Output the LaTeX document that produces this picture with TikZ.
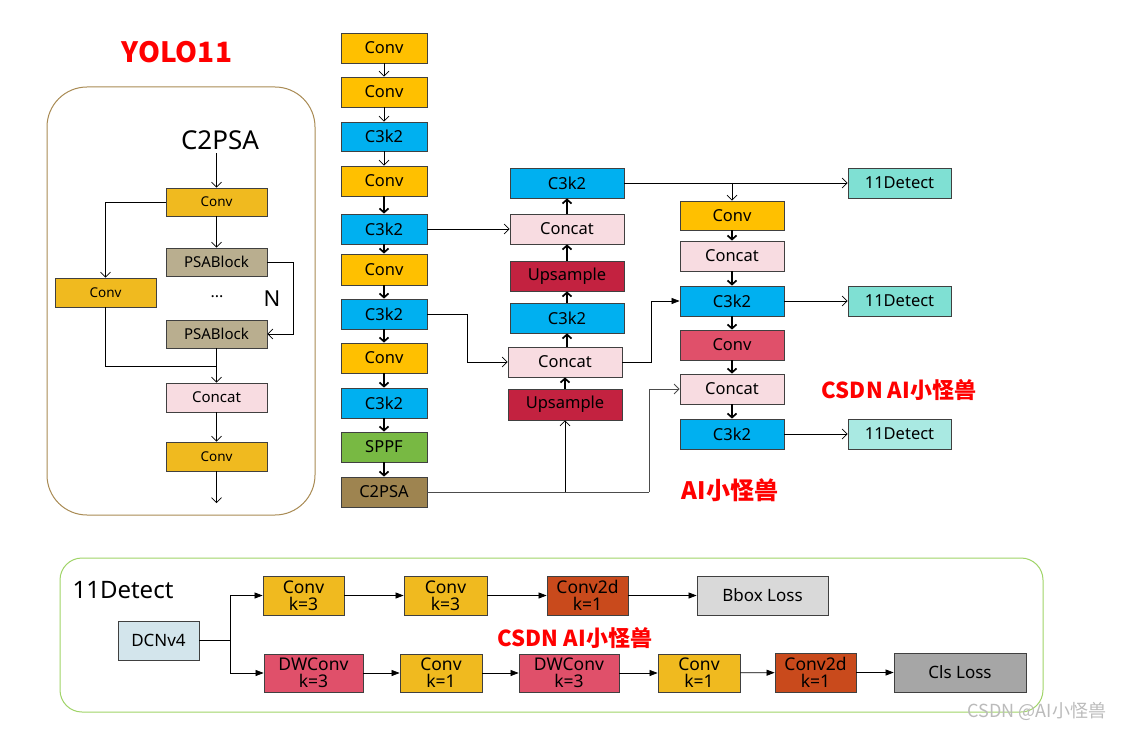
\documentclass[tikz,border=0pt]{standalone}
\usepackage{fontspec}
\setmainfont{Noto Sans}
\newfontfamily\cjk{Noto Sans CJK SC}
\usetikzlibrary{arrows.meta}
\definecolor{cconv}{HTML}{FFC000}
\definecolor{cc3}{HTML}{00B0F0}
\definecolor{ccat}{HTML}{F8DCE1}
\definecolor{cups}{HTML}{C32240}
\definecolor{csppf}{HTML}{78B943}
\definecolor{cpsa}{HTML}{9E8450}
\definecolor{cdet}{HTML}{7FE0D3}
\definecolor{cdetl}{HTML}{A9E9E2}
\definecolor{crconv}{HTML}{E0506A}
\definecolor{cgold}{HTML}{F0BA1F}
\definecolor{cpsab}{HTML}{B9AE8F}
\definecolor{cdcn}{HTML}{D3E5EC}
\definecolor{cc2d}{HTML}{C94A1C}
\definecolor{cbbox}{HTML}{D9D9D9}
\definecolor{ccls}{HTML}{A6A6A6}
\definecolor{cline}{HTML}{404040}
\definecolor{cframeA}{HTML}{A98B54}
\definecolor{cframeB}{HTML}{A0D468}
\definecolor{cred}{HTML}{FF0000}
\definecolor{cwm}{HTML}{BBBBBB}
\tikzset{
  bx/.style={draw=cline, line width=0.8pt, inner sep=0pt, align=center, font=\fontsize{16.5}{18}\selectfont},
  bw/.style 2 args={minimum width=#1, minimum height=#2},
  sm/.style={font=\fontsize{13.5}{15}\selectfont},
  md/.style={font=\fontsize{15}{17}\selectfont},
  two/.style={font=\fontsize{17.5}{17}\selectfont},
  openarr/.style={-{Straight Barb[length=5pt,width=10pt]}, line width=0.7pt},
  thickarr/.style={-{Straight Barb[length=4pt,width=9pt]}, line width=1.7pt},
  farr/.style={-{Triangle[length=8pt,width=6pt]}, line width=0.7pt},
  redlbl/.style={text=cred, font=\cjk\bfseries\fontsize{22}{24}\selectfont},
}
\begin{document}
\begin{tikzpicture}[x=1pt,y=-1pt]
\useasboundingbox[fill=white] (0,0) rectangle (1124,730);

% ---------- left panel ----------
\node[text=cred, font=\cjk\bfseries\fontsize{28}{30}\selectfont] (title) at (177,52) {YOLO11};
\draw[cframeA, line width=1pt, rounded corners=40pt] (47,87) rectangle (315,515);
\node[font=\fontsize{26}{28}\selectfont] (lc) at (220,140) {C2PSA};
\node[bx, bw={101}{28}, fill=cgold, sm] (l1) at (216.5,202) {Conv};
\node[bx, bw={101}{28}, fill=cpsab, md] (l2) at (216.5,262) {PSABlock};
\node[bx, bw={101}{29}, fill=cgold, sm] (l3) at (105.5,292.5) {Conv};
\node[bx, bw={101}{28}, fill=cpsab, md] (l4) at (216.5,334) {PSABlock};
\node[bx, bw={101}{29}, fill=ccat, md] (l5) at (216.5,397.5) {Concat};
\node[bx, bw={101}{29}, fill=cgold, sm] (l6) at (216.5,456.5) {Conv};
\node[font=\fontsize{16}{16}\selectfont] (dots) at (217,297) {...};
\node[font=\fontsize{22}{24}\selectfont] (nn) at (272,299) {N};
\coordinate (lo) at (216.5,503);
\coordinate (lj) at (216.5,366);
\draw[openarr] (l1.north |- lc.south) -- (l1.north);
\draw[openarr] (l1.west) -| (l3.north);
\draw[openarr] (l1) -- (l2);
\draw[openarr] (l2.east) -- ++(26,0) |- (l4.east);
\draw[line width=0.7pt] (l3.south) |- (lj);
\draw[openarr] (l4.south) -- (l5.north);
\draw[openarr] (l5) -- (l6);
\draw[openarr] (l6.south) -- (lo);

% ---------- backbone ----------
\node[bx, bw={86}{30}, fill=cconv] (m1) at (384,48) {Conv};
\node[bx, bw={86}{30}, fill=cconv] (m2) at (384,92) {Conv};
\node[bx, bw={86}{29}, fill=cc3] (m3) at (384,136.5) {C3k2};
\node[bx, bw={86}{30}, fill=cconv] (m4) at (384,181) {Conv};
\node[bx, bw={86}{30}, fill=cc3] (m5) at (384,229) {C3k2};
\node[bx, bw={86}{31}, fill=cconv] (m6) at (384,269.5) {Conv};
\node[bx, bw={86}{30}, fill=cc3] (m7) at (384,314) {C3k2};
\node[bx, bw={86}{30}, fill=cconv] (m8) at (384,358) {Conv};
\node[bx, bw={86}{30}, fill=cc3] (m9) at (384,403) {C3k2};
\node[bx, bw={86}{30}, fill=csppf] (m10) at (384,447) {SPPF};
\node[bx, bw={86}{30}, fill=cpsa] (m11) at (384,492) {C2PSA};
\draw[openarr] (m1) -- (m2);
\draw[openarr] (m2) -- (m3);
\draw[openarr] (m3) -- (m4);
\foreach \a/\b in {m4/m5,m5/m6,m6/m7,m7/m8,m8/m9,m9/m10,m10/m11}
  \draw[thickarr] (\a) -- (\b);

% ---------- neck column 2 ----------
\node[bx, bw={114}{30}, fill=cc3] (n1) at (567,183) {C3k2};
\node[bx, bw={114}{30}, fill=ccat] (n2) at (567,229) {Concat};
\node[bx, bw={114}{30}, fill=cups] (n3) at (567,276) {Upsample};
\node[bx, bw={114}{30}, fill=cc3] (n4) at (567,318) {C3k2};
\node[bx, bw={114}{30}, fill=ccat] (n5) at (565,362) {Concat};
\node[bx, bw={114}{31}, fill=cups] (n6) at (565,404.5) {Upsample};
\draw[thickarr] (n6) -- (n5);
\draw[thickarr] (n5.north -| n4) -- (n4);
\draw[thickarr] (n4) -- (n3);
\draw[thickarr] (n3) -- (n2);
\draw[thickarr] (n2) -- (n1);

% ---------- neck column 3 ----------
\node[bx, bw={104}{29}, fill=cconv] (r1) at (732,215.5) {Conv};
\node[bx, bw={104}{30}, fill=ccat] (r2) at (732,256) {Concat};
\node[bx, bw={104}{30}, fill=cc3] (r3) at (732,301) {C3k2};
\node[bx, bw={104}{30}, fill=crconv] (r4) at (732,345) {Conv};
\node[bx, bw={104}{30}, fill=ccat] (r5) at (732,389) {Concat};
\node[bx, bw={104}{30}, fill=cc3] (r6) at (732,434) {C3k2};
\foreach \a/\b in {r1/r2,r2/r3,r3/r4,r4/r5,r5/r6}
  \draw[thickarr] (\a) -- (\b);

% ---------- detect heads ----------
\node[bx, bw={103}{30}, fill=cdet] (d1) at (899.5,183) {11Detect};
\node[bx, bw={103}{30}, fill=cdet] (d2) at (899.5,301) {11Detect};
\node[bx, bw={103}{30}, fill=cdetl] (d3) at (899.5,434) {11Detect};

% ---------- connectors ----------
\coordinate (j1) at (467,314);
\coordinate (j2) at (649,492);
\coordinate (j4) at (651,362);
\draw[openarr] (m5.east) -- (n2.west);
\draw[openarr] (m7.east) -- (j1) |- (n5.west);
\draw[line width=0.8pt, black!70] (m11.east) -- (j2);
\draw[openarr, black!70, line width=0.8pt] (j2) |- (r5.west);
\draw[openarr] (n6.south |- m11.east) -- (n6.south);
\draw[farr] (n5.east) -- (j4) |- (r3.west);
\draw[openarr] (n1.east) -- (d1.west);
\draw[openarr] (n1.east -| r1.north) -- (r1.north);
\draw[openarr] (r3.east) -- (d2.west);
\draw[openarr] (r6.east) -- (d3.west);

\node[redlbl] (wm1) at (899,390) {CSDN AI小怪兽};
\node[redlbl, font=\cjk\bfseries\fontsize{24}{26}\selectfont] (wm2) at (730,490) {AI小怪兽};

% ---------- bottom panel ----------
\draw[cframeB, line width=1pt, rounded corners=22pt] (60,558) rectangle (1043,712);
\node[font=\fontsize{24}{26}\selectfont] (bt) at (123,590) {11Detect};
\node[bx, bw={81}{39}, fill=cdcn, font=\fontsize{17}{18}\selectfont] (b0) at (158.5,640.5) {DCNv4};
\node[bx, bw={81}{39}, fill=cgold, two] (b1) at (303.5,595.5) {Conv\\k=3};
\node[bx, bw={83}{39}, fill=cgold, two] (b2) at (445.5,595.5) {Conv\\k=3};
\node[bx, bw={81}{39}, fill=cc2d, two] (b3) at (587.5,595.5) {Conv2d\\k=1};
\node[bx, bw={131}{39}, fill=cbbox, font=\fontsize{17}{18}\selectfont] (b4) at (762.5,595.5) {Bbox Loss};
\node[bx, bw={99}{38}, fill=crconv, two] (c1) at (313.5,673) {DWConv\\k=3};
\node[bx, bw={82}{38}, fill=cgold, two] (c2) at (441,673) {Conv\\k=1};
\node[bx, bw={100}{38}, fill=crconv, two] (c3) at (569,673) {DWConv\\k=3};
\node[bx, bw={82}{38}, fill=cgold, two] (c4) at (699,673) {Conv\\k=1};
\node[bx, bw={81}{39}, fill=cc2d, two] (c5) at (815.5,672.5) {Conv2d\\k=1};
\node[bx, bw={132}{39}, fill=ccls, font=\fontsize{17}{18}\selectfont] (c6) at (960,672.5) {Cls Loss};
\coordinate (bj) at (230,640.5);
\draw[line width=0.7pt] (b0.east) -- (bj);
\draw[farr] (bj) |- (b1.west);
\draw[farr] (bj) |- (c1.west);
\foreach \a/\b in {b1/b2,b2/b3,b3/b4,c1/c2,c2/c3,c3/c4,c4/c5,c5/c6}
  \draw[farr] (\a) -- (\b);
\node[redlbl] (wm3) at (575,638) {CSDN AI小怪兽};
\node[text=cwm, font=\cjk\fontsize{18}{20}\selectfont] (wm4) at (1037,711) {CSDN @AI小怪兽};
\end{tikzpicture}
\end{document}
